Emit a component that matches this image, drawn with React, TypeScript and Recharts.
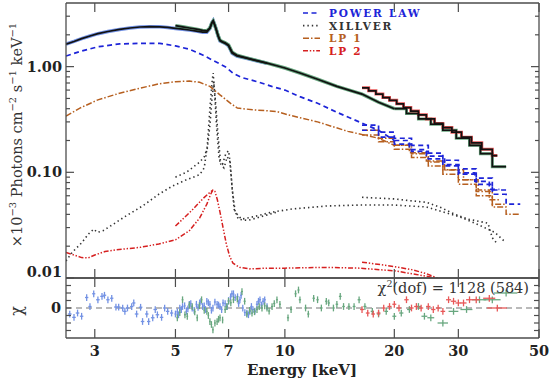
import React from 'react';
import { ComposedChart, Line, Scatter, XAxis, YAxis, ErrorBar, ReferenceLine } from 'recharts';

// ---- axes ----
const ENERGY_DOMAIN = [2.5, 50];
const ENERGY_TICKS = [3, 5, 7, 10, 20, 30, 50];
const FLUX_DOMAIN = [0.01, 4];
const FLUX_MAJOR = [0.01, 0.1, 1];
const FLUX_MINOR = [0.02, 0.03, 0.04, 0.05, 0.06, 0.07, 0.08, 0.09, 0.2, 0.3, 0.4, 0.5, 0.6, 0.7, 0.8, 0.9, 2, 3];
const CHI_DOMAIN = [-4, 4];
const CHI_TICKS = [-3, -2, -1, 0, 1, 2, 3];

// ---- total models (keV, flux) ----
const modelAE = [2.5, 2.63, 2.76, 2.91, 3.06, 3.26, 3.51, 3.75, 3.99, 4.25, 4.53, 4.76, 5.0, 5.23, 5.46, 5.71, 5.94, 6.1, 6.22, 6.3, 6.35, 6.42, 6.48, 6.55, 6.63, 6.74, 6.85, 7.0, 7.08, 7.16, 7.38, 7.84, 8.4, 8.93];
const modelAF = [1.63, 1.73, 1.84, 1.95, 2.05, 2.15, 2.25, 2.32, 2.37, 2.39, 2.38, 2.35, 2.3, 2.26, 2.22, 2.17, 2.12, 2.12, 2.3, 2.6, 2.72, 2.45, 2.22, 1.95, 1.75, 1.7, 1.66, 1.57, 1.45, 1.34, 1.26, 1.2, 1.13, 1.076];

const modelBE = [5.0, 5.23, 5.46, 5.71, 5.94, 6.1, 6.22, 6.3, 6.35, 6.42, 6.48, 6.55, 6.63, 6.74, 6.85, 7.0, 7.08, 7.16, 7.38, 7.84, 8.4, 8.93, 9.5, 10.0, 11.0, 12.3, 13.9, 16.3, 18.1, 20.0];
const modelBF = [2.44, 2.38, 2.32, 2.26, 2.2, 2.18, 2.32, 2.6, 2.7, 2.45, 2.22, 1.97, 1.78, 1.72, 1.68, 1.6, 1.48, 1.37, 1.28, 1.21, 1.14, 1.08, 1.02, 0.97, 0.87, 0.76, 0.65, 0.55, 0.46, 0.4];
const modelBBinE = [20.0, 21.6, 23.3, 25.2, 27.2, 29.6, 32.2, 34.5, 37.2, 40.6];
const modelBBinF = [0.4, 0.36, 0.32, 0.285, 0.25, 0.21, 0.18, 0.15, 0.113, 0.113];

const modelCE = [16.3, 17.0, 17.8, 18.6, 19.4, 20.3, 21.2, 22.2, 23.3, 24.5, 25.8, 27.2, 28.8, 30.6, 32.6, 34.8, 37.2, 38.4];
const modelCF = [0.63, 0.59, 0.55, 0.51, 0.48, 0.445, 0.41, 0.38, 0.35, 0.32, 0.29, 0.265, 0.24, 0.215, 0.19, 0.165, 0.144, 0.144];

// ---- power law ----
const plAE = [2.5, 2.73, 3.06, 3.51, 3.99, 4.53, 5.0, 5.46, 5.94, 6.3, 6.85, 7.22, 7.6, 8.4, 9.2, 10.0, 11.0, 12.3, 13.9, 16.0, 18.1, 20.0];
const plAF = [1.26, 1.39, 1.54, 1.64, 1.66, 1.66, 1.57, 1.46, 1.29, 1.16, 1.0, 0.86, 0.79, 0.72, 0.65, 0.6, 0.52, 0.45, 0.37, 0.3, 0.25, 0.2];
const plABinE = [20.0, 22.0, 24.5, 27.5, 30.1, 33.3, 36.5, 38.9];
const plABinF = [0.2, 0.164, 0.142, 0.118, 0.099, 0.082, 0.069, 0.069];
const plBE = [16.3, 18.1, 20.0, 22.3, 24.8, 27.2, 30.0, 33.6, 37.2, 40.6];
const plBF = [0.28, 0.24, 0.21, 0.18, 0.152, 0.13, 0.108, 0.088, 0.068, 0.068];
const plCE = [16.3, 18.1, 20.0, 22.3, 24.8, 27.2, 30.0, 33.6, 37.2, 40.6, 44.4];
const plCF = [0.25, 0.215, 0.185, 0.158, 0.134, 0.115, 0.096, 0.077, 0.062, 0.05, 0.05];

// ---- xillver ----
const xilAE = [2.5, 2.6, 2.76, 2.88, 2.98, 3.05, 3.16, 3.36, 3.67, 4.06, 4.5, 4.9, 5.36, 5.83, 6.0, 6.12, 6.22, 6.3, 6.35, 6.42, 6.5, 6.6, 6.74, 6.88, 7.0, 7.08, 7.16, 7.3, 7.6, 8.2, 9.2, 10.5, 13, 16, 20, 24.5, 30.2, 34, 37.8, 40.3];
const xilAF = [0.0145, 0.0175, 0.0215, 0.026, 0.029, 0.027, 0.028, 0.032, 0.039, 0.048, 0.062, 0.074, 0.085, 0.095, 0.11, 0.18, 0.4, 0.7, 0.87, 0.5, 0.25, 0.13, 0.12, 0.15, 0.16, 0.12, 0.07, 0.042, 0.036, 0.038, 0.042, 0.045, 0.048, 0.049, 0.049, 0.047, 0.038, 0.032, 0.027, 0.022];
const xilBE = [5.0, 5.36, 5.83, 6.0, 6.12, 6.22, 6.3, 6.37, 6.45, 6.55, 6.66, 6.8, 6.94, 7.05, 7.14, 7.25, 7.45, 7.9, 8.6, 9.5];
const xilBF = [0.09, 0.1, 0.125, 0.14, 0.17, 0.28, 0.5, 0.72, 0.45, 0.22, 0.12, 0.11, 0.14, 0.13, 0.08, 0.045, 0.036, 0.035, 0.038, 0.042];
const xilCE = [16.3, 18, 20, 22, 24.5, 27, 29.4, 32, 36.2, 37.2, 38.4];
const xilCF = [0.058, 0.057, 0.056, 0.054, 0.052, 0.046, 0.04, 0.036, 0.033, 0.024, 0.021];

// ---- LP 1 ----
const lp1AE = [2.5, 2.73, 3.06, 3.51, 3.99, 4.53, 5.0, 5.46, 5.83, 6.22, 6.63, 7.09, 7.4, 8.2, 9.5, 10.2, 12.3, 14.9, 18.1, 20.0];
const lp1AF = [0.34, 0.405, 0.485, 0.56, 0.625, 0.69, 0.72, 0.73, 0.71, 0.65, 0.54, 0.45, 0.405, 0.39, 0.376, 0.35, 0.3, 0.244, 0.21, 0.18];
const lp1ABinE = [20.0, 22.0, 24.5, 27.5, 31.0, 34.0, 36.5, 38.9];
const lp1ABinF = [0.18, 0.153, 0.128, 0.106, 0.085, 0.068, 0.055, 0.055];
const lp1BE = [16.3, 18.1, 20.0, 22.3, 24.8, 27.2, 30.0, 33.6, 37.2, 40.6];
const lp1BF = [0.25, 0.21, 0.18, 0.15, 0.125, 0.105, 0.085, 0.066, 0.05, 0.05];
const lp1CE = [16.3, 18.1, 20.0, 22.3, 24.8, 27.2, 30.0, 33.6, 37.2, 40.6, 44.4];
const lp1CF = [0.225, 0.195, 0.165, 0.138, 0.115, 0.096, 0.077, 0.06, 0.047, 0.04, 0.04];

// ---- LP 2 ----
const lp2AE = [2.5, 2.63, 2.76, 2.88, 3.0, 3.2, 3.5, 4.0, 4.5, 5.0, 5.46, 5.83, 6.1, 6.25, 6.34, 6.42, 6.52, 6.63, 6.76, 6.9, 7.05, 7.2, 7.5, 8.0, 9, 10, 13, 16, 20, 23, 26.4];
const lp2AF = [0.0174, 0.0165, 0.0156, 0.0155, 0.0165, 0.0178, 0.0186, 0.0195, 0.021, 0.023, 0.028, 0.037, 0.05, 0.062, 0.068, 0.066, 0.055, 0.042, 0.03, 0.021, 0.016, 0.0138, 0.0126, 0.0122, 0.0124, 0.0124, 0.0126, 0.0124, 0.0117, 0.0108, 0.0099];
const lp2BE = [5.0, 5.56, 5.94, 6.2, 6.34];
const lp2BF = [0.031, 0.044, 0.056, 0.064, 0.068];
const lp2CE = [16.3, 18, 20, 22.3, 24.5, 26.4];
const lp2CF = [0.0141, 0.0135, 0.0128, 0.012, 0.011, 0.0099];

// ---- residuals (chi) ----
const RES_SIGMA = 0.45;
const blueResE = [2.56, 2.63, 2.69, 2.76, 2.85, 2.91, 2.98, 3.06, 3.14, 3.19, 3.26, 3.34, 3.43, 3.49, 3.58, 3.63, 3.69, 3.79, 3.84, 3.91, 4.01, 4.06, 4.17, 4.22, 4.33, 4.4, 4.46, 4.58, 4.67, 4.76, 4.88, 5.0, 5.06, 5.1, 5.14, 5.19, 5.23, 5.3, 5.36, 5.41, 5.46, 5.51, 5.56, 5.63, 5.71, 5.77, 5.83, 5.88, 5.94, 6.0, 6.05, 6.1, 6.16, 6.22, 6.28, 6.34, 6.42, 6.51, 6.57, 6.63, 6.7, 6.76, 6.85, 6.94, 7.0, 7.09, 7.15, 7.22, 7.3, 7.41, 7.46, 7.52, 7.58, 7.66, 7.76, 7.86, 7.94, 8.01, 8.09, 8.17, 8.27, 8.38, 8.46, 8.54, 8.62, 8.71, 8.8, 8.93];
const blueResChi = [-0.8, -1.25, -0.67, -1.1, 1.4, 0.2, 1.9, 1.1, 1.55, 1.7, 1.1, 1.3, 0.13, 0.13, 0, -0.45, 0, 0.2, 0.67, -0.8, 0.1, -1.8, -0.8, -1.8, -1.3, -0.2, -0.9, -1.25, 0, -0.45, -0.67, -0.8, -0.5, -0.9, 0, -0.2, 0.2, 0.3, -0.45, -0.1, 0.5, 0.6, 0, -0.3, 0.5, 0.1, 0.67, 0.9, 0.2, 0.3, -0.2, 0.9, 0.7, 0.5, -0.3, 0, 0.8, 0.5, 0.4, 0.2, -0.2, 0.67, 0.6, 0.2, 1.0, 1.5, 1.9, 1.9, 1.4, 1.5, 0.6, 1.1, 1.7, 0, -0.6, -0.67, -0.9, -0.45, 0.2, -0.2, -0.4, 0.5, 0.9, 1.1, 0.4, 0.9, 1.1, 0.2];
const blueResDx = [0.03, 0.03, 0.03, 0.03, 0.03, 0.03, 0.03, 0.035, 0.035, 0.035, 0.035, 0.035, 0.04, 0.04, 0.04, 0.04, 0.04, 0.04, 0.04, 0.045, 0.045, 0.045, 0.045, 0.045, 0.05, 0.05, 0.05, 0.05, 0.05, 0.05, 0.05, 0.03, 0.03, 0.03, 0.03, 0.03, 0.03, 0.03, 0.03, 0.03, 0.03, 0.03, 0.03, 0.03, 0.03, 0.03, 0.03, 0.03, 0.03, 0.03, 0.03, 0.03, 0.03, 0.03, 0.03, 0.03, 0.04, 0.04, 0.04, 0.04, 0.04, 0.04, 0.04, 0.04, 0.04, 0.04, 0.04, 0.04, 0.05, 0.05, 0.05, 0.05, 0.05, 0.05, 0.05, 0.05, 0.05, 0.05, 0.06, 0.06, 0.06, 0.06, 0.06, 0.06, 0.06, 0.06, 0.06, 0.06];

const greenResE = [5.06, 5.14, 5.23, 5.31, 5.39, 5.46, 5.56, 5.65, 5.74, 5.82, 5.9, 6.0, 6.1, 6.16, 6.22, 6.28, 6.34, 6.42, 6.51, 6.57, 6.63, 6.74, 6.85, 6.92, 7.0, 7.1, 7.22, 7.4, 7.62, 7.75, 7.86, 8.0, 8.12, 8.25, 8.38, 8.5, 8.65, 8.8, 8.93, 9.05, 9.22, 9.35, 9.51, 9.69, 10.2, 10.4, 10.7, 10.9, 11.0, 11.4, 11.6, 12.0, 12.3, 12.6, 13.0, 13.2, 13.6, 13.9, 14.2, 14.5, 15.0, 15.5, 16.0, 16.6, 17.4, 18.1, 19.0, 20.0, 20.9, 22.0, 23.3, 24.2, 25.2, 27.2, 29.1, 31.6, 34.3, 37.2, 40.6];
const greenResChi = [-1.3, -0.6, 1.1, -0.9, -1.1, 0.4, 0.2, -0.5, -1.3, 0.3, 1.1, -0.3, -0.45, -1.0, -1.8, -2.2, -2.9, -2.0, -1.8, -1.5, -1.3, -1.6, -0.2, 0.2, 0.9, 0.7, 1.1, 1.2, 2.2, 0.9, -0.8, -0.3, -0.67, -0.5, -0.2, 0.2, 0, 0.3, 0, -0.4, 0.2, 0.6, 1.1, 0.5, -1.3, -0.2, 1.9, 2.4, 1.1, 0, -0.8, 1.3, 1.1, 0, 0.9, 0.67, 0, 0.5, 1.55, 0.2, 0.2, 0.2, 1.1, 0.2, -0.45, -0.8, -0.45, -1.1, -0.67, -0.2, 0.2, -1.1, -1.3, -2.0, -0.45, -0.2, 1.1, 1.1, 2.0];
const greenResDx = [0.03, 0.03, 0.03, 0.03, 0.03, 0.03, 0.03, 0.03, 0.03, 0.03, 0.03, 0.03, 0.03, 0.03, 0.03, 0.03, 0.03, 0.03, 0.03, 0.03, 0.03, 0.03, 0.04, 0.04, 0.04, 0.04, 0.04, 0.04, 0.05, 0.05, 0.05, 0.05, 0.05, 0.05, 0.05, 0.05, 0.05, 0.05, 0.06, 0.06, 0.06, 0.06, 0.06, 0.06, 0.07, 0.07, 0.07, 0.07, 0.08, 0.08, 0.08, 0.09, 0.09, 0.1, 0.1, 0.1, 0.11, 0.11, 0.12, 0.12, 0.13, 0.14, 0.15, 0.16, 0.18, 0.2, 0.22, 0.25, 0.28, 0.32, 0.38, 0.45, 0.55, 0.9, 0.9, 1.2, 1.5, 2.0, 3.0];

const redResE = [16.3, 16.9, 17.5, 18.1, 18.7, 19.4, 20.0, 20.6, 21.6, 22.3, 23.0, 23.7, 24.8, 25.6, 26.4, 27.2, 28.2, 29.1, 30.0, 31.0, 32.2, 33.6, 36.5, 38.4];
const redResChi = [-0.2, -0.67, -0.8, -0.67, 0, 0.2, 0.5, 0, 1.1, 0, 0.2, 0, 0.2, -0.2, 0, -0.45, 1.1, 0.9, 0.67, 0.67, 1.1, 1.1, 1.3, 0];
const redResDx = [0.2, 0.2, 0.2, 0.22, 0.22, 0.25, 0.25, 0.27, 0.3, 0.3, 0.32, 0.32, 0.35, 0.35, 0.38, 0.4, 0.45, 0.5, 0.55, 0.6, 0.7, 0.8, 1.4, 2.4];

// ---- legend ----
const legendNames = ['POWER LAW', 'XILLVER', 'LP 1', 'LP 2'];

const C_MODEL = '#111111';
const C_PL = '#1d24d8';
const C_XIL = '#333333';
const C_LP1 = '#b65f1f';
const C_LP2 = '#d62020';
const C_BLUE = '#7392e4';
const C_GREEN = '#68a77f';
const C_RED = '#e85858';
const FRAME = '#4d4d4d';
const SERIF = "'DejaVu Serif', serif";

const legendColors = [C_PL, C_XIL, C_LP1, C_LP2];
const legendDash = ['5 3.5', '1.4 3', '6 2 1.5 2', '5 1.8 1.4 1.8 1.4 1.8'];

const rows = (e: number[], f: number[]) => e.map((x, i) => ({ e: x, f: f[i] }));
const resRows = (e: number[], chi: number[], dx: number[]) =>
  e.map((x, i) => ({ e: x, chi: chi[i], dx: dx[i], dy: RES_SIGMA }));

const Empty = () => <g />;

const EnergyTick = (props: any, dir: number, withLabel: boolean) => {
  const { x, y, payload } = props;
  return (
    <g>
      <line x1={x} x2={x} y1={y} y2={y + dir * 9} stroke={FRAME} strokeWidth={1.2} />
      {withLabel && (
        <text x={x} y={y + 18} textAnchor="middle" fontFamily={SERIF} fontWeight={700} fontSize={14.5} fill="#222">
          {payload.value}
        </text>
      )}
    </g>
  );
};

const FluxTick = (props: any, dir: number, withLabel: boolean) => {
  const { x, y, payload } = props;
  const v = payload.value;
  const major = FLUX_MAJOR.includes(v);
  return (
    <g>
      <line x1={x} x2={x + dir * (major ? 8 : 4)} y1={y} y2={y} stroke={FRAME} strokeWidth={1.2} />
      {withLabel && major && (
        <text x={x - 4} y={y + 5 - (v === 0.01 ? 6 : 0)} textAnchor="end" fontFamily={SERIF} fontWeight={700} fontSize={14.5} fill="#222">
          {v.toFixed(2)}
        </text>
      )}
    </g>
  );
};

const ChiTick = (props: any, dir: number, withLabel: boolean) => {
  const { x, y, payload } = props;
  return (
    <g>
      <line x1={x} x2={x + dir * 5} y1={y} y2={y} stroke={FRAME} strokeWidth={1.2} />
      {withLabel && payload.value === 0 && (
        <text x={x - 5} y={y + 5} textAnchor="end" fontFamily={SERIF} fontWeight={700} fontSize={14.5} fill="#222">
          0
        </text>
      )}
    </g>
  );
};

const axisLine = { stroke: FRAME, strokeWidth: 1.3 };

const curve = (key: string, data: any[], stroke: string, dash: string | undefined, width: number, step = false) => (
  <Line
    key={key}
    xAxisId="e"
    yAxisId="f"
    data={data}
    dataKey="f"
    type={step ? 'stepAfter' : 'linear'}
    stroke={stroke}
    strokeWidth={width}
    strokeDasharray={dash}
    dot={false}
    activeDot={false}
    isAnimationActive={false}
  />
);

// axes are 1px thick so that Recharts still draws them; margins absorb that pixel
export default function App() {
  const pos: React.CSSProperties = { position: 'absolute', left: 0, top: 0 };
  return (
    <div style={{ position: 'fixed', left: 0, top: 0, width: 552, height: 381, background: '#fff' }}>
      <div style={pos}>
        <ComposedChart width={552} height={381} margin={{ top: 2, right: 12, bottom: 102, left: 65 }}>
          <XAxis xAxisId="e" type="number" dataKey="e" scale="log" domain={ENERGY_DOMAIN} allowDataOverflow ticks={ENERGY_TICKS} interval={0} height={1} tickSize={0} tickMargin={0} tickLine={false} axisLine={axisLine} tick={(p: any) => EnergyTick(p, -1, false)} />
          <XAxis xAxisId="top" orientation="top" type="number" dataKey="e" scale="log" domain={ENERGY_DOMAIN} allowDataOverflow ticks={ENERGY_TICKS} interval={0} height={1} tickSize={0} tickMargin={0} tickLine={false} axisLine={axisLine} tick={(p: any) => EnergyTick(p, 1, false)} />
          <YAxis yAxisId="f" type="number" dataKey="f" scale="log" domain={FLUX_DOMAIN} allowDataOverflow ticks={[...FLUX_MAJOR, ...FLUX_MINOR]} interval={0} width={1} tickSize={0} tickMargin={0} tickLine={false} axisLine={axisLine} tick={(p: any) => FluxTick(p, 1, true)} />
          <YAxis yAxisId="fr" orientation="right" type="number" dataKey="f" scale="log" domain={FLUX_DOMAIN} allowDataOverflow ticks={[...FLUX_MAJOR, ...FLUX_MINOR]} interval={0} width={1} tickSize={0} tickMargin={0} tickLine={false} axisLine={axisLine} tick={(p: any) => FluxTick(p, -1, false)} />

          {curve('dA', rows(modelAE, modelAF), C_BLUE, undefined, 3.5)}
          {curve('dB', rows(modelBE, modelBF), C_GREEN, undefined, 3.5)}
          {curve('dBb', rows(modelBBinE, modelBBinF), C_GREEN, undefined, 3, true)}
          {curve('dC', rows(modelCE, modelCF), C_RED, undefined, 3, true)}

          {curve('lp2A', rows(lp2AE, lp2AF), C_LP2, legendDash[3], 1.5)}
          {curve('lp2B', rows(lp2BE, lp2BF), C_LP2, legendDash[3], 1.5)}
          {curve('lp2C', rows(lp2CE, lp2CF), C_LP2, legendDash[3], 1.5)}

          {curve('xilA', rows(xilAE, xilAF), C_XIL, legendDash[1], 1.6)}
          {curve('xilB', rows(xilBE, xilBF), C_XIL, legendDash[1], 1.6)}
          {curve('xilC', rows(xilCE, xilCF), C_XIL, legendDash[1], 1.6)}

          {curve('lp1A', rows(lp1AE, lp1AF), C_LP1, legendDash[2], 1.5)}
          {curve('lp1Ab', rows(lp1ABinE, lp1ABinF), C_LP1, legendDash[2], 1.5, true)}
          {curve('lp1B', rows(lp1BE, lp1BF), C_LP1, legendDash[2], 1.5, true)}
          {curve('lp1C', rows(lp1CE, lp1CF), C_LP1, legendDash[2], 1.5, true)}

          {curve('plA', rows(plAE, plAF), C_PL, legendDash[0], 1.7)}
          {curve('plAb', rows(plABinE, plABinF), C_PL, legendDash[0], 1.7, true)}
          {curve('plB', rows(plBE, plBF), C_PL, legendDash[0], 1.7, true)}
          {curve('plC', rows(plCE, plCF), C_PL, legendDash[0], 1.7, true)}

          {curve('mA', rows(modelAE, modelAF), C_MODEL, undefined, 1.7)}
          {curve('mB', rows(modelBE, modelBF), C_MODEL, undefined, 1.7)}
          {curve('mBb', rows(modelBBinE, modelBBinF), C_MODEL, undefined, 1.7, true)}
          {curve('mC', rows(modelCE, modelCF), C_MODEL, undefined, 1.7, true)}
        </ComposedChart>
      </div>

      <div style={pos}>
        <ComposedChart width={552} height={381} margin={{ top: 277, right: 12, bottom: 42, left: 65 }}>
          <XAxis xAxisId="e" type="number" dataKey="e" scale="log" domain={ENERGY_DOMAIN} allowDataOverflow ticks={ENERGY_TICKS} interval={0} height={1} tickSize={0} tickMargin={0} tickLine={false} axisLine={axisLine} tick={(p: any) => EnergyTick(p, -1, true)} />
          <XAxis xAxisId="top" orientation="top" type="number" dataKey="e" scale="log" domain={ENERGY_DOMAIN} allowDataOverflow ticks={ENERGY_TICKS} interval={0} height={1} tickSize={0} tickMargin={0} tickLine={false} axisLine={axisLine} tick={(p: any) => EnergyTick(p, 1, false)} />
          <YAxis yAxisId="chi" type="number" dataKey="chi" domain={CHI_DOMAIN} allowDataOverflow ticks={CHI_TICKS} interval={0} width={1} tickSize={0} tickMargin={0} tickLine={false} axisLine={axisLine} tick={(p: any) => ChiTick(p, 1, true)} />
          <YAxis yAxisId="chir" orientation="right" type="number" dataKey="chi" domain={CHI_DOMAIN} allowDataOverflow ticks={CHI_TICKS} interval={0} width={1} tickSize={0} tickMargin={0} tickLine={false} axisLine={axisLine} tick={(p: any) => ChiTick(p, -1, false)} />
          <ReferenceLine xAxisId="e" yAxisId="chi" y={0} stroke="#777" strokeWidth={1.2} strokeDasharray="6 4" />
          {[
            { k: 'blue', d: resRows(blueResE, blueResChi, blueResDx), c: C_BLUE },
            { k: 'green', d: resRows(greenResE, greenResChi, greenResDx), c: C_GREEN },
            { k: 'red', d: resRows(redResE, redResChi, redResDx), c: C_RED },
          ].map((s) => (
            <Scatter key={s.k} xAxisId="e" yAxisId="chi" data={s.d} dataKey="chi" shape={Empty} isAnimationActive={false}>
              <ErrorBar dataKey="dx" direction="x" width={0} stroke={s.c} strokeWidth={1.3} isAnimationActive={false} />
              <ErrorBar dataKey="dy" direction="y" width={0} stroke={s.c} strokeWidth={1.3} isAnimationActive={false} />
            </Scatter>
          ))}
        </ComposedChart>
      </div>

      <svg width={552} height={381} style={{ ...pos, pointerEvents: 'none' }}>
        {legendNames.map((name, i) => (
          <g key={name}>
            <line x1={303} x2={320} y1={13 + i * 12.6} y2={13 + i * 12.6} stroke={legendColors[i]} strokeWidth={1.6} strokeDasharray={legendDash[i]} />
            <text x={329} y={17 + i * 12.6} fontFamily={SERIF} fontWeight={700} fontSize={10.5} letterSpacing={1.8} fill={legendColors[i]}>
              {name}
            </text>
          </g>
        ))}
        <text x={529} y={293} textAnchor="end" fontFamily={SERIF} fontSize={14.5} fill="#333">
          χ<tspan dy={-6} fontSize={9.5}>2</tspan>
          <tspan dy={6}>(dof) = 1128 (584)</tspan>
        </text>
        <text x={302} y={375} textAnchor="middle" fontFamily={SERIF} fontWeight={700} fontSize={15} fill="#222">
          Energy [keV]
        </text>
        <text transform="translate(22,135) rotate(-90)" textAnchor="middle" fontFamily={SERIF} fontSize={14.5} fill="#333">
          ×10<tspan dy={-6} fontSize={10}>−3</tspan>
          <tspan dy={6}> Photons cm</tspan>
          <tspan dy={-6} fontSize={10}>−2</tspan>
          <tspan dy={6}> s</tspan>
          <tspan dy={-6} fontSize={10}>−1</tspan>
          <tspan dy={6}> keV</tspan>
          <tspan dy={-6} fontSize={10}>−1</tspan>
        </text>
        <text transform="translate(22,311) rotate(-90)" textAnchor="middle" fontFamily={SERIF} fontSize={16} fill="#333">
          χ
        </text>
      </svg>
    </div>
  );
}
